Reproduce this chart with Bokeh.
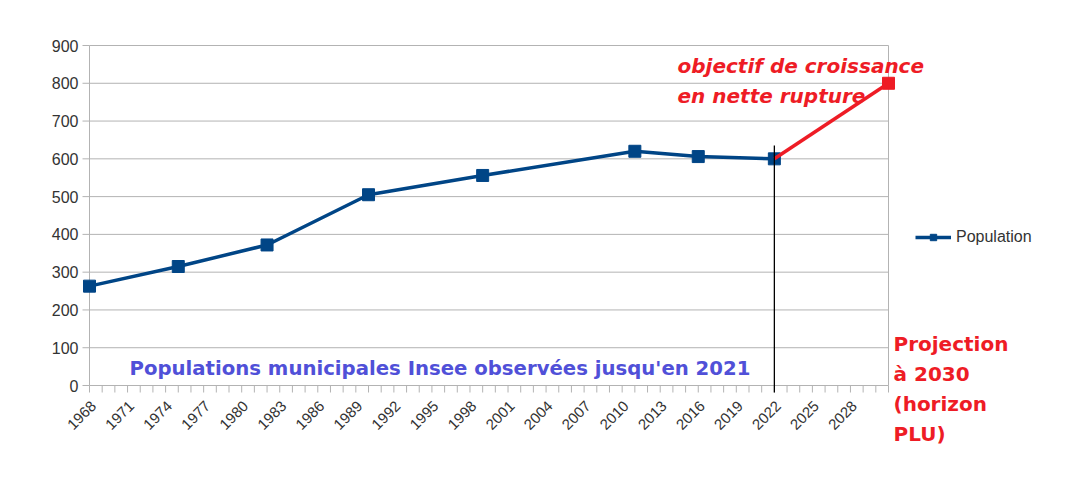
from bokeh.plotting import figure
from bokeh.models import Range1d, Label, Legend, LegendItem
from bokeh.core.properties import value
from bokeh.embed import file_html
from bokeh.resources import INLINE
import math

# ---- data ----
years = [1968, 1975, 1982, 1990, 1999, 2011, 2016, 2022]
population = [263, 315, 372, 505, 556, 620, 606, 600]
proj_years = [2022, 2031]
proj_values = [600, 800]
marker_year = 2022
marker_top = 635
y_ticks = [0, 100, 200, 300, 400, 500, 600, 700, 800, 900]
x_tick_labels = [1968, 1971, 1974, 1977, 1980, 1983, 1986, 1989, 1992, 1995, 1998,
                 2001, 2004, 2007, 2010, 2013, 2016, 2019, 2022, 2025, 2028]
x_minor_ticks = list(range(1968, 2032))
axis_start, axis_end = 1968, 2031

BLUE = "#004586"
RED = "#ee1c25"
GRID = "#b3b3b3"
TXT = "#333333"

# ---- layout (pixels) ----
# The drawing area covers the whole canvas so that the texts lying outside the
# axes (rotated year labels, "Projection ...", legend) are not clipped.
W, H = 1055, 468
AX_L, AX_R = 89, 888          # pixel of axis_start / axis_end
AX_T, AX_B = 45, 385          # pixel of 900 / 0
ppy = (AX_R - AX_L) / (axis_end - axis_start)
ppu = (AX_B - AX_T) / (y_ticks[-1] - y_ticks[0])
x0 = axis_start - AX_L / ppy
x1 = axis_start + (W - AX_L) / ppy
y0 = y_ticks[0] - (H - AX_B) / ppu
y1 = y_ticks[-1] + AX_T / ppu
XTICK = 7 / ppu               # x-axis tick length in data units
YTICK = 7 / ppy               # y-axis tick length in data units

p = figure(width=W, height=H, output_backend="svg", toolbar_location=None,
           x_range=Range1d(x0, x1), y_range=Range1d(y0, y1),
           min_border_left=0, min_border_right=0, min_border_top=0, min_border_bottom=0)

def px2x(px):
    return x0 + px / ppy
def py2y(py):
    return y1 - py / ppu

p.outline_line_color = None
p.xgrid.visible = False
p.ygrid.visible = False
p.xaxis.visible = False
p.yaxis.visible = False

# grid + plot border (the 0 line is the x axis line)
n = len(y_ticks)
p.segment(x0=[axis_start] * n, y0=y_ticks, x1=[axis_end] * n, y1=y_ticks,
          line_color=GRID, line_width=1, level="underlay")
p.segment(x0=[axis_start, axis_end], y0=[y_ticks[0]] * 2, x1=[axis_start, axis_end],
          y1=[y_ticks[-1]] * 2, line_color=GRID, line_width=1, level="underlay")

# y axis ticks and labels
p.segment(x0=[axis_start - YTICK] * n, y0=y_ticks, x1=[axis_start] * n, y1=y_ticks,
          line_color=GRID, line_width=1, level="underlay")
p.text(x=[axis_start] * n, y=y_ticks, text=[str(v) for v in y_ticks],
       text_align="right", text_baseline="middle", x_offset=-11,
       text_font=value("Liberation Sans"), text_font_size="16px", text_color=TXT)

# x axis ticks (every year) and rotated labels
m = len(x_minor_ticks)
p.segment(x0=x_minor_ticks, y0=[0] * m, x1=x_minor_ticks, y1=[-XTICK] * m,
          line_color=GRID, line_width=1, level="underlay")
p.text(x=x_tick_labels, y=[0] * len(x_tick_labels), text=[str(v) for v in x_tick_labels],
       angle=math.pi / 4, text_align="right", text_baseline="middle",
       x_offset=4, y_offset=18, text_font=value("Liberation Sans"),
       text_font_size="15px", text_color=TXT)

# data
ln = p.line(years, population, line_color=BLUE, line_width=3.5)
sc = p.scatter(years, population, marker="square", size=12, fill_color=BLUE,
               line_color=BLUE)
p.line(proj_years, proj_values, line_color=RED, line_width=3.5)
p.scatter(proj_years[-1:], proj_values[-1:], marker="square", size=12,
          fill_color=RED, line_color=RED)
p.segment(x0=[marker_year], y0=[-XTICK], x1=[marker_year], y1=[marker_top],
          line_color="black", line_width=1.3)

legend = Legend(items=[LegendItem(label="Population", renderers=[ln, sc])],
                location=(915, H - 246), glyph_width=36, glyph_height=16,
                label_standoff=5, padding=0, margin=0, border_line_color=None,
                background_fill_alpha=0, label_text_font="Liberation Sans",
                label_text_font_size="16px", label_text_color=TXT)
p.add_layout(legend, "center")

# annotations
for i, t in enumerate(["objectif de croissance", "en nette rupture"]):
    p.add_layout(Label(x=px2x(677), y=py2y(65 + 30 * i), text=t,
                       text_font="DejaVu Sans", text_font_style="bold italic",
                       text_font_size="20px", text_color=RED,
                       text_baseline="alphabetic"))
p.add_layout(Label(x=px2x(129), y=py2y(368),
                   text="Populations municipales Insee observées jusqu'en 2021",
                   text_font="DejaVu Sans", text_font_style="bold",
                   text_font_size="19.7px", text_color="#5050d8",
                   text_baseline="alphabetic"))
for i, t in enumerate(["Projection", "à 2030", "(horizon", "PLU)"]):
    p.add_layout(Label(x=px2x(893), y=py2y(343 + 30 * i), text=t,
                       text_font="DejaVu Sans", text_font_style="bold",
                       text_font_size="20px", text_color=RED,
                       text_baseline="alphabetic"))

open("out.html", "w").write(file_html(p, INLINE))
